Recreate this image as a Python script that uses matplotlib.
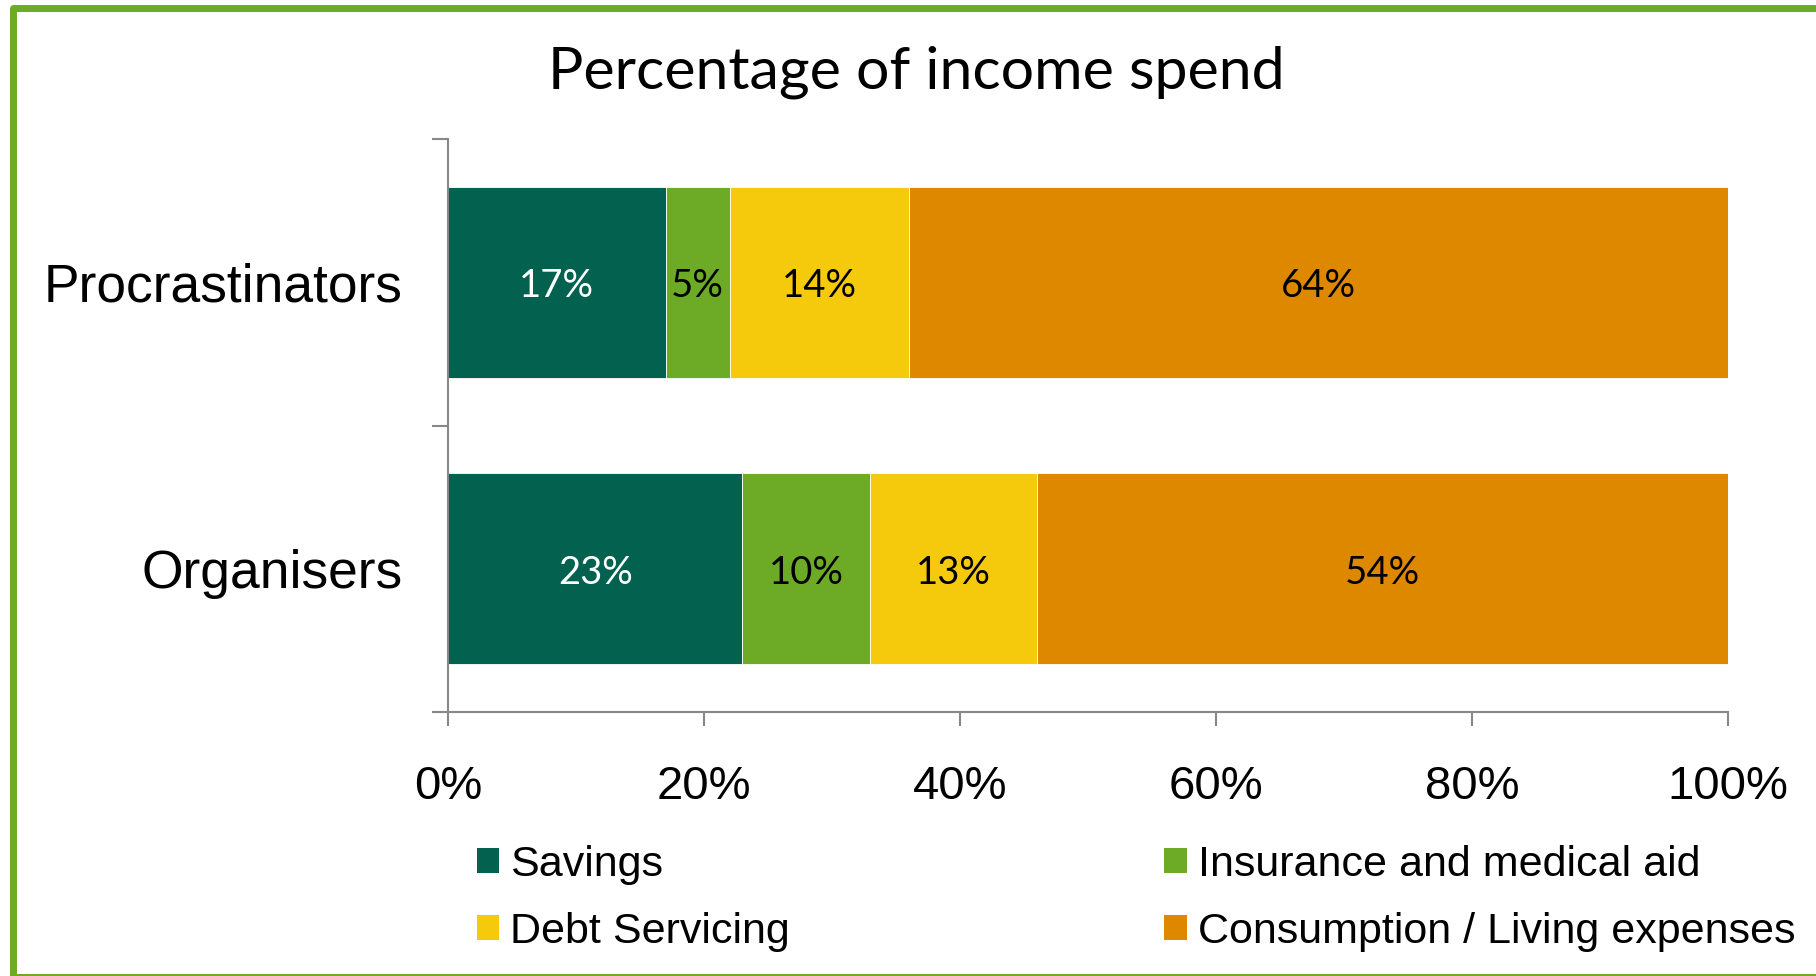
import matplotlib
matplotlib.use("Agg")
import matplotlib.pyplot as plt
from matplotlib.patches import Rectangle, Patch
import numpy as np

# Data
groups = ["Organisers", "Procrastinators"]
series_names = ["Savings", "Insurance and medical aid", "Debt Servicing",
                "Consumption / Living expenses"]
savings = [23, 17]
insurance = [10, 5]
debt = [13, 14]
consumption = [54, 64]
x_ticks = [0, 20, 40, 60, 80, 100]
x_tick_labels = ["0%", "20%", "40%", "60%", "80%", "100%"]

colors = ["#02624F", "#6DAA25", "#F5CA0C", "#DE8800"]
label_colors = ["white", "black", "black", "black"]

SANS = ["Liberation Sans", "DejaVu Sans"]
CAL = ["Lato", "DejaVu Sans"]

fig = plt.figure(figsize=(18.16, 9.76), dpi=100)
fig.patch.set_facecolor("white")
ax = fig.add_axes([448 / 1816, 1 - 712 / 976, 1280 / 1816, 573 / 976])

ypos = np.arange(len(groups))
left = np.zeros(len(groups))
all_series = [savings, insurance, debt, consumption]
for name, vals, col, lc in zip(series_names, all_series, colors, label_colors):
    vals = np.array(vals, dtype=float)
    bars = ax.barh(ypos, vals, left=left, height=0.667, color=col,
                   edgecolor="white", linewidth=0.6, label=name)
    for b, v in zip(bars, vals):
        ax.annotate(f"{int(v)}%",
                    (b.get_x() + b.get_width() / 2, b.get_y() + b.get_height() / 2),
                    xytext=(0, -3), textcoords="offset points",
                    ha="center", va="center", color=lc,
                    fontsize=27.5, family=CAL)
    left += vals

ax.set_xlim(0, 100)
ax.set_ylim(-0.5, 1.5)
ax.set_xticks(x_ticks)
ax.set_xticklabels(x_tick_labels, family=SANS, fontsize=34)
ax.set_yticks(ypos)
ax.set_yticklabels(groups, family=SANS, fontsize=38.4)
ax.set_yticks([-0.5, 0.5, 1.5], minor=True)

for s in ["top", "right"]:
    ax.spines[s].set_visible(False)
for s in ["left", "bottom"]:
    ax.spines[s].set_color("#888888")
    ax.spines[s].set_linewidth(1.5)

ax.tick_params(axis="x", which="major", direction="out", length=10,
               width=1.5, color="#888888", pad=28.5)
ax.tick_params(axis="y", which="major", length=0, pad=33)
ax.tick_params(axis="y", which="minor", direction="out", length=11.5,
               width=1.5, color="#888888")

fig.text(916 / 1816, 1 - 72 / 976, "Percentage of income spend",
         ha="center", va="center", fontsize=42.5, family=CAL)

handles = [Patch(facecolor=c) for c in colors]
order = [0, 2, 1, 3]
leg = fig.legend([handles[i] for i in order], [series_names[i] for i in order],
                 ncol=2, loc="upper left",
                 bbox_to_anchor=(477 / 1816, 1 - 845 / 976),
                 frameon=False, prop={"family": SANS, "size": 31},
                 handlelength=0.52, handleheight=0.52, handletextpad=0.25,
                 columnspacing=8.7, labelspacing=0.63, borderpad=0,
                 borderaxespad=0)

# Green frame around the chart
frame = Rectangle((12.5 / 1816, -0.5 / 976), (1818.5 - 12.5) / 1816,
                  (976 - 7.5 + 0.5) / 976, transform=fig.transFigure,
                  fill=False, edgecolor="#6DAA25", linewidth=5.0,
                  joinstyle="round", clip_on=False)
fig.patches.append(frame)

fig.savefig("out.png", dpi=100, facecolor="white")
